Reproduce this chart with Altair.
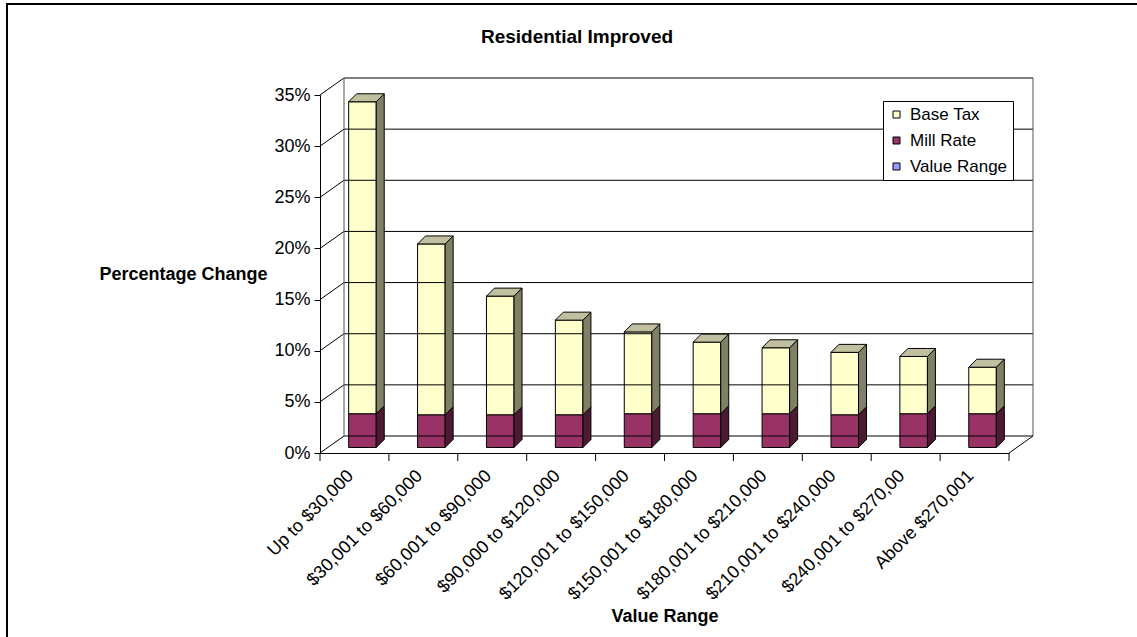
import altair as alt
import pandas as pd

# ---------------- data ----------------
categories = ["Up to $30,000", "$30,001 to $60,000", "$60,001 to $90,000",
              "$90,000 to $120,000", "$120,001 to $150,000", "$150,001 to $180,000",
              "$180,001 to $210,000", "$210,001 to $240,000", "$240,001 to $270,00",
              "Above $270,001"]
value_range = [0, 0, 0, 0, 0, 0, 0, 0, 0, 0]
mill_rate = [3.3, 3.2, 3.2, 3.2, 3.3, 3.3, 3.3, 3.2, 3.3, 3.3]
base_tax = [30.5, 16.7, 11.6, 9.25, 8.0, 7.0, 6.45, 6.1, 5.6, 4.55]
series_names = ["Base Tax", "Mill Rate", "Value Range"]
y_ticks = [0, 5, 10, 15, 20, 25, 30, 35]

title_text = "Residential Improved"
y_title = "Percentage Change"
x_title = "Value Range"

# ---------------- style ----------------
FONT = "Liberation Sans"
W, H = 689, 358
N = len(categories)
YMAX = 35
PX = W / N            # pixels per category
PY = H / YMAX         # pixels per percent
WALL_DX, WALL_DY = 24 / PX, 17 / PY     # depth of the 3-D box
BAR_DX, BAR_DY = 8 / PX, 8 / PY         # depth of a column
BAR_HALF = 0.2                          # half width of a column (category units)
OFF = dict(xOffset=8, x2Offset=8, yOffset=-5.5, y2Offset=-5.5)  # columns one third deep

front_colors = {"Base Tax": "#FFFFCC", "Mill Rate": "#993366", "Value Range": "#9999FF"}
side_colors = {"Base Tax": "#808064", "Mill Rate": "#4D1A33", "Value Range": "#4D4D80"}
top_color = "#C0C0A0"

# ---------------- tables built from the arrays ----------------
stack_order = [("Value Range", value_range), ("Mill Rate", mill_rate), ("Base Tax", base_tax)]
seg_rows, side_rows, top_rows = [], [], []
for i, cat in enumerate(categories):
    base = 0.0
    L, R = i + 0.5 - BAR_HALF, i + 0.5 + BAR_HALF
    for s, vals in stack_order:
        v = vals[i]
        if v > 0:
            seg_rows.append(dict(cat=cat, series=s, x0=L, x1=R, y0=base, y1=base + v))
            fid = f"{i}-{s}"
            side_rows.append(dict(face=fid, series=s, x=R, y=base, y2=base + v))
            side_rows.append(dict(face=fid, series=s, x=R + BAR_DX, y=base + BAR_DY,
                                  y2=base + v + BAR_DY))
        base += v
    T = base
    fid = f"top-{i}"
    top_rows += [dict(face=fid, x=L, y=T, y2=T),
                 dict(face=fid, x=L + BAR_DX, y=T, y2=T + BAR_DY),
                 dict(face=fid, x=R, y=T, y2=T + BAR_DY),
                 dict(face=fid, x=R + BAR_DX, y=T + BAR_DY, y2=T + BAR_DY)]

segs = pd.DataFrame(seg_rows)
sides = pd.DataFrame(side_rows)
tops = pd.DataFrame(top_rows)
labels = pd.DataFrame({"cat": categories, "xc": [i + 0.5 for i in range(N)]})
grid = pd.DataFrame({"v": y_ticks})
bounds = pd.DataFrame({"b": list(range(N + 1))})
one = pd.DataFrame({"a": [0]})

xs = alt.Scale(domain=[0, N], nice=False, zero=False)
ys = alt.Scale(domain=[0, YMAX], nice=False, zero=False)

# ---------------- walls ----------------
back_grid = alt.Chart(grid).mark_rule(color="black", strokeWidth=1).transform_calculate(
    xa=f"{WALL_DX}", xb=f"{N + WALL_DX}", yy=f"datum.v + {WALL_DY}"
).encode(x=alt.X("xa:Q", scale=xs), x2="xb:Q", y=alt.Y("yy:Q", scale=ys))

side_diag = alt.Chart(grid).mark_rule(color="black", strokeWidth=1).transform_calculate(
    xa="0", xb=f"{WALL_DX}", yb=f"datum.v + {WALL_DY}"
).encode(x=alt.X("xa:Q", scale=xs), x2="xb:Q", y=alt.Y("v:Q", scale=ys), y2="yb:Q")

wall_edges = alt.Chart(pd.DataFrame({"xe": [WALL_DX, N + WALL_DX]})).mark_rule(
    color="#555555", strokeWidth=1
).transform_calculate(ya=f"{WALL_DY}", yb=f"{YMAX + WALL_DY}").encode(
    x=alt.X("xe:Q", scale=xs), y=alt.Y("ya:Q", scale=ys), y2="yb:Q")

floor_diag = alt.Chart(one).mark_rule(color="black", strokeWidth=1).transform_calculate(
    xa=f"{N}", xb=f"{N + WALL_DX}", ya="0", yb=f"{WALL_DY}"
).encode(x=alt.X("xa:Q", scale=xs), x2="xb:Q", y=alt.Y("ya:Q", scale=ys), y2="yb:Q")

x_ticks = alt.Chart(bounds).mark_rule(color="black", strokeWidth=1).encode(
    x=alt.X("b:Q", scale=xs), y=alt.value(H), y2=alt.value(H + 8))

x_labels = alt.Chart(labels).mark_text(
    angle=315, align="right", baseline="alphabetic", font=FONT, fontSize=18, color="black"
).encode(x=alt.X("xc:Q", scale=xs), y=alt.value(H + 24), text="cat:N")

# ---------------- columns ----------------
side_layers = []
for s in ["Mill Rate", "Base Tax"]:
    side_layers.append(
        alt.Chart(sides).transform_filter(alt.datum.series == s).mark_area(
            fill=side_colors[s], stroke="black", strokeWidth=1, interpolate="linear", **OFF
        ).encode(x=alt.X("x:Q", scale=xs), y=alt.Y("y:Q", scale=ys), y2="y2:Q",
                 detail="face:N"))

top_layer = alt.Chart(tops).mark_area(
    fill=top_color, stroke="black", strokeWidth=1, interpolate="linear", **OFF
).encode(x=alt.X("x:Q", scale=xs), y=alt.Y("y:Q", scale=ys), y2="y2:Q", detail="face:N")

front = alt.Chart(segs).mark_bar(stroke="black", strokeWidth=1, **OFF).encode(
    x=alt.X("x0:Q", scale=xs, axis=alt.Axis(
        values=[i + 0.5 for i in range(N)], labels=False, ticks=False, grid=False,
        domain=True, domainColor="black", domainWidth=1,
        title=x_title, titleFont=FONT, titleFontSize=18, titleFontWeight="bold",
        titleColor="black", titleAnchor="middle", titleAlign="center",
        titleX=W / 2, titleY=168, titleBaseline="alphabetic")),
    x2="x1:Q",
    y=alt.Y("y0:Q", scale=ys, stack=None, axis=alt.Axis(
        values=y_ticks, labelExpr="datum.value + '%'", grid=False,
        domain=True, domainColor="black", domainWidth=1,
        ticks=True, tickSize=6, tickColor="black",
        labelFont=FONT, labelFontSize=18, labelColor="black", labelPadding=4,
        title=y_title, titleFont=FONT, titleFontSize=18, titleFontWeight="bold",
        titleColor="black", titleAngle=0, titleAlign="right", titleBaseline="middle",
        titleX=-53, titleY=H / 2)),
    y2="y1:Q",
    color=alt.Color("series:N", scale=alt.Scale(
        domain=series_names, range=[front_colors[s] for s in series_names]),
        legend=alt.Legend(
            orient="none", legendX=563, legendY=6, title=None,
            strokeColor="black", fillColor="white", padding=5,
            symbolType="square", symbolSize=49, symbolStrokeColor="black",
            symbolStrokeWidth=1, symbolOpacity=1, labelFont=FONT, labelFontSize=17,
            labelColor="black", rowPadding=8, labelOffset=5)),
)

# ---------------- title and frame ----------------
title = alt.Chart(one).mark_text(
    font=FONT, fontSize=19, fontWeight="bold", align="center", baseline="alphabetic",
    color="black"
).encode(x=alt.value(257), y=alt.value(-52), text=alt.value(title_text))

frame_top = alt.Chart(one).mark_rule(color="black", strokeWidth=2).encode(
    x=alt.value(6 - 320), x2=alt.value(1137 - 320), y=alt.value(4 - 95))
frame_left = alt.Chart(one).mark_rule(color="black", strokeWidth=2).encode(
    x=alt.value(7 - 320), y=alt.value(3 - 95), y2=alt.value(637 - 95))

chart = alt.layer(
    front, frame_top, frame_left, back_grid, side_diag, wall_edges, floor_diag, x_ticks,
    x_labels, *side_layers, top_layer, title
).properties(
    width=W, height=H,
    padding={"left": 320, "top": 95, "right": 1137 - 320 - W, "bottom": 637 - 95 - H},
    autosize=alt.AutoSizeParams(type="none"),
    background="white",
).configure_view(stroke=None)

chart.save("out.html", embed_options={"renderer": "svg", "actions": False})
